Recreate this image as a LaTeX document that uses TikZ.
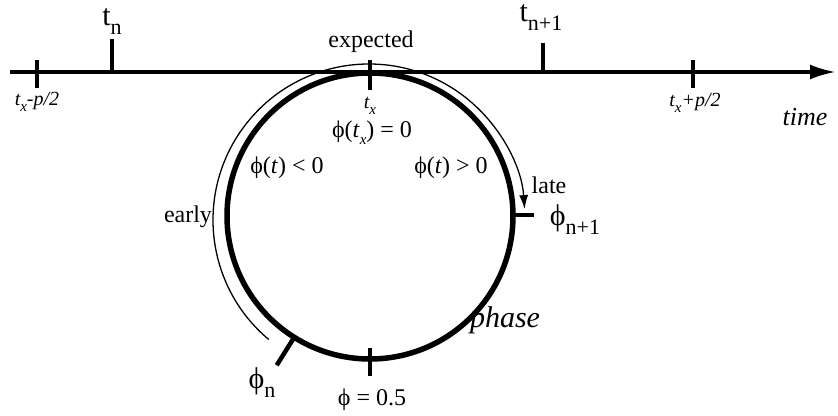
\documentclass[tikz,border=0pt]{standalone}
\usepackage{fontspec}
\setmainfont{Liberation Serif}
\usetikzlibrary{arrows.meta}
\tikzstyle{axisline}=[line width=3.5pt]
\tikzstyle{tick}=[line width=4.5pt]
\tikzstyle{ring}=[line width=5.5pt]
\tikzstyle{guide}=[line width=1.3pt]
\tikzstyle{lbl}=[font=\fontsize{24}{24}\selectfont, inner sep=0pt]
\tikzstyle{big}=[font=\fontsize{30}{30}\selectfont, inner sep=0pt]
\tikzstyle{itl}=[font=\fontsize{20}{20}\selectfont\itshape, inner sep=0pt]
\newcommand{\sbn}[1]{\raisebox{-0.3em}{\fontsize{22}{22}\selectfont #1}}
\newcommand{\sbx}[1]{\raisebox{-0.3em}{\fontsize{15}{15}\selectfont\itshape #1}}

\begin{document}
\begin{tikzpicture}[x=1pt, y=1pt]
	\useasboundingbox (0,0) rectangle (838,415);

	% time axis
	\coordinate (tstart) at (10,343);
	\coordinate (tend) at (836,343);
	\draw[axisline, -{Latex[length=26pt,width=15pt]}] (tstart) -- (tend);

	% ticks on the time axis
	\draw[tick] (37,355) -- (37,327);
	\draw[tick] (370,355) -- (370,325);
	\draw[tick] (693,355) -- (693,327);
	\draw[line width=3.5pt] (112,376) -- (112,343);
	\draw[line width=3.5pt] (543,372) -- (543,343);

	% phase circle
	\coordinate (ctr) at (370,199);
	\draw[ring] (ctr) circle[radius=143];
	\draw[guide, -{Latex[length=14pt,width=9pt]}] (369,195) ++(230:156) arc[start angle=230, end angle=4, radius=156];

	% ticks on the circle
	\draw[tick] (370,67) -- (370,39);
	\draw[tick] (511,200) -- (534,200);
	\draw[tick] (ctr) ++(238:141) -- ++(238:35);

	% labels on the time axis
	\node[big] (tn) at (112,393) {t\sbn{n}};
	\node[big] (tnp) at (541,397) {t\sbn{n+1}};
	\node[lbl] (expd) at (371,373) {expected};
	\node[itl] (lo) at (37,313) {t\sbx{x}-p/2};
	\node[itl] (tx) at (370,309) {t\sbx{x}};
	\node[itl] (hi) at (695,312) {t\sbx{x}+p/2};
	\node[lbl, font=\fontsize{26}{26}\selectfont\itshape] (tm) at (805,298) {time};

	% labels on the circle
	\node[lbl] (zero) at (372,282) {ϕ(\textit{t}\sbx{x}) = 0};
	\node[lbl] (neg) at (287,247) {ϕ(\textit{t}) < 0};
	\node[lbl] (pos) at (451,247) {ϕ(\textit{t}) > 0};
	\node[lbl] (erl) at (188,198) {early};
	\node[lbl] (lt) at (549,230) {late};
	\node[big] (phnp) at (575,195) {ϕ\sbn{n+1}};
	\node[lbl, font=\fontsize{30}{30}\selectfont\itshape] (ph) at (505,95) {phase};
	\node[big] (phn) at (262,32) {ϕ\sbn{n}};
	\node[lbl] (half) at (372,15) {ϕ = 0.5};
\end{tikzpicture}
\end{document}
